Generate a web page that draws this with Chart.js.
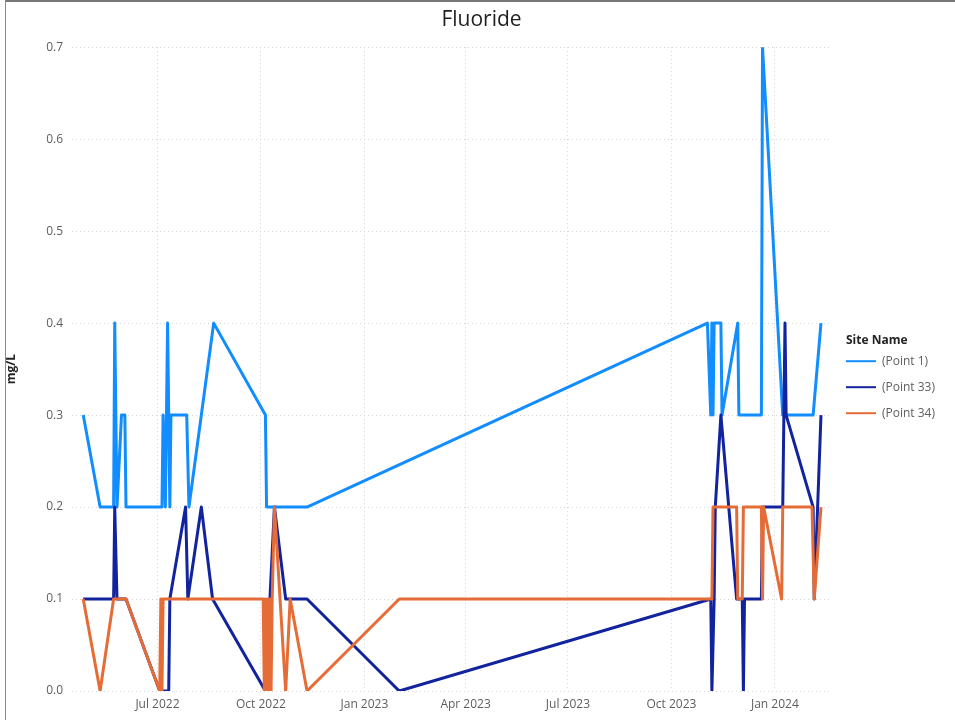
<!DOCTYPE html>
<html>
<head>
<meta charset="utf-8">
<script src="https://cdn.jsdelivr.net/npm/chart.js@4.4.1/dist/chart.umd.min.js"></script>
<style>
html,body{margin:0;padding:0;background:#fff;}
#wrap{position:relative;width:955px;height:720px;overflow:hidden;}
#frame{position:absolute;left:5px;top:0;width:980px;height:760px;border-left:1px solid #8a8a8a;border-top:2px solid #777;pointer-events:none;}
canvas{display:block;}
</style>
</head>
<body>
<div id="wrap"><canvas id="c" width="955" height="720"></canvas><div id="frame"></div></div>
<script>
const chartTitle = 'Fluoride';
const yTitle = 'mg/L';
const legendTitle = 'Site Name';
const seriesNames = ['(Point 1)', '(Point 33)', '(Point 34)'];
const seriesColors = ['#118DFF', '#12239E', '#E66C37'];

const p1Dates = ['2022-04-26','2022-05-11','2022-05-23','2022-05-24','2022-05-26','2022-05-30','2022-06-02','2022-06-03','2022-07-05','2022-07-06','2022-07-08','2022-07-10','2022-07-12','2022-07-13','2022-07-27','2022-07-29','2022-08-20','2022-10-05','2022-10-06','2022-11-11','2023-11-02','2023-11-05','2023-11-06','2023-11-07','2023-11-08','2023-11-14','2023-11-15','2023-11-29','2023-11-30','2023-12-20','2023-12-21','2024-01-08','2024-02-04','2024-02-11'];
const p1Values = [0.3,0.2,0.2,0.4,0.2,0.3,0.3,0.2,0.2,0.3,0.2,0.4,0.2,0.3,0.3,0.2,0.4,0.3,0.2,0.2,0.4,0.3,0.4,0.3,0.4,0.4,0.3,0.4,0.3,0.3,0.7,0.3,0.3,0.4];

const p33Dates = ['2022-04-26','2022-05-11','2022-05-23','2022-05-24','2022-05-26','2022-06-03','2022-07-03','2022-07-11','2022-07-12','2022-07-26','2022-07-28','2022-08-09','2022-08-19','2022-10-05','2022-10-13','2022-10-23','2022-11-11','2023-02-01','2023-11-05','2023-11-06','2023-11-08','2023-11-09','2023-11-14','2023-11-28','2023-12-03','2023-12-04','2023-12-05','2023-12-20','2023-12-21','2024-01-08','2024-01-10','2024-01-11','2024-02-04','2024-02-05','2024-02-11'];
const p33Values = [0.1,0.1,0.1,0.2,0.1,0.1,0.0,0.0,0.1,0.2,0.1,0.2,0.1,0.0,0.2,0.1,0.1,0.0,0.1,0.0,0.1,0.2,0.3,0.1,0.1,0.0,0.1,0.1,0.2,0.2,0.4,0.3,0.2,0.1,0.3];

const p34Dates = ['2022-04-26','2022-05-11','2022-05-23','2022-06-03','2022-07-03','2022-07-04','2022-07-05','2022-07-06','2022-08-20','2022-10-03','2022-10-04','2022-10-05','2022-10-06','2022-10-07','2022-10-08','2022-10-09','2022-10-10','2022-10-11','2022-10-13','2022-10-23','2022-10-27','2022-11-11','2023-02-01','2023-11-06','2023-11-07','2023-11-28','2023-11-29','2023-12-03','2023-12-04','2023-12-20','2023-12-21','2023-12-22','2024-01-07','2024-01-08','2024-02-03','2024-02-05','2024-02-11'];
const p34Values = [0.1,0.0,0.1,0.1,0.0,0.1,0.0,0.1,0.1,0.1,0.0,0.1,0.0,0.1,0.0,0.1,0.0,0.1,0.2,0.0,0.1,0.0,0.1,0.1,0.2,0.2,0.1,0.1,0.2,0.2,0.1,0.2,0.1,0.2,0.2,0.1,0.2];

const tickDates = ['2022-07-01','2022-10-01','2023-01-01','2023-04-01','2023-07-01','2023-10-01','2024-01-01'];
const tickLabels = ['Jul 2022','Oct 2022','Jan 2023','Apr 2023','Jul 2023','Oct 2023','Jan 2024'];
const yTickValues = [0, 0.1, 0.2, 0.3, 0.4, 0.5, 0.6, 0.7];
const xMinDate = '2022-04-16';
const xMaxDate = '2024-02-19';

const FONT = "'Segoe UI', 'Open Sans', sans-serif";

function toPoints(dates, values) {
  return dates.map((d, i) => ({ x: Date.parse(d), y: values[i] }));
}
function makeSet(i, dates, values) {
  return {
    label: seriesNames[i],
    data: toPoints(dates, values),
    borderColor: seriesColors[i],
    backgroundColor: seriesColors[i],
    borderWidth: 3,
    borderJoinStyle: 'round',
    pointRadius: 0,
    pointHoverRadius: 0,
    tension: 0,
    fill: false
  };
}

// Shift the chart title slightly right, as in the reference
const titleShift = {
  id: 'titleShift',
  afterLayout(chart) {
    const t = chart.titleBlock;
    if (t) { t.left += 9; t.right += 9; }
  }
};

// Draws the legend heading aligned with the legend line symbols
const legendHeading = {
  id: 'legendHeading',
  afterDraw(chart) {
    const lg = chart.legend;
    if (!lg || !lg.legendHitBoxes || !lg.legendHitBoxes.length) return;
    const boxes = lg.legendHitBoxes;
    let first = boxes[0];
    boxes.forEach(b => { if (b.top < first.top) first = b; });
    const ctx = chart.ctx;
    ctx.save();
    ctx.font = 'bold 12px ' + FONT;
    ctx.fillStyle = '#252423';
    ctx.textAlign = 'left';
    ctx.textBaseline = 'middle';
    ctx.fillText(legendTitle, first.left, first.top + first.height / 2 - 21);
    ctx.restore();
  }
};

const gridCommon = { color: '#d4d4d4', lineWidth: 1, drawTicks: false, borderDash: [1, 3] };

new Chart(document.getElementById('c'), {
  type: 'line',
  data: {
    datasets: [
      makeSet(2, p34Dates, p34Values),
      makeSet(1, p33Dates, p33Values),
      makeSet(0, p1Dates, p1Values)
    ]
  },
  plugins: [titleShift, legendHeading],
  options: {
    responsive: false,
    animation: false,
    events: [],
    layout: { padding: { left: 0, right: 10, top: 0, bottom: 0 } },
    plugins: {
      title: {
        display: true, text: chartTitle, color: '#1f1f1f',
        font: { family: FONT, size: 21, weight: 'normal' },
        padding: { top: 7, bottom: 15 }
      },
      legend: {
        position: 'right', align: 'center', reverse: true,
        title: {
          display: true, text: ' ', position: 'start', color: 'rgba(0,0,0,0)',
          font: { family: FONT, size: 12, weight: 'bold' }, padding: { top: 40, bottom: 0 }
        },
        labels: {
          usePointStyle: true, pointStyle: 'line', pointStyleWidth: 30,
          color: '#605E5C', font: { family: FONT, size: 12 }, padding: 14,
          generateLabels: chart => Chart.defaults.plugins.legend.labels.generateLabels(chart).map(it => Object.assign(it, { lineWidth: 2 }))
        }
      },
      tooltip: { enabled: false }
    },
    scales: {
      x: {
        type: 'linear',
        min: Date.parse(xMinDate), max: Date.parse(xMaxDate),
        afterBuildTicks: s => { s.ticks = tickDates.map(d => ({ value: Date.parse(d) })); },
        afterFit: s => { s.height = 29; },
        ticks: {
          autoSkip: false, maxRotation: 0, minRotation: 0, padding: 6,
          color: '#605E5C', font: { family: FONT, size: 12 },
          callback: (v, i) => tickLabels[i]
        },
        grid: gridCommon,
        border: { display: false, dash: [1, 3] }
      },
      y: {
        type: 'linear', min: 0, max: 0.7,
        afterBuildTicks: s => { s.ticks = yTickValues.map(v => ({ value: v })); },
        afterFit: s => { s.width = 72; },
        title: { display: true, text: yTitle, color: '#252423', font: { family: FONT, size: 12, weight: 'bold' } },
        ticks: { padding: 9, color: '#605E5C', font: { family: FONT, size: 12 }, callback: v => Number(v).toFixed(1) },
        grid: gridCommon,
        border: { display: false, dash: [1, 3] }
      },
      spacer: {
        type: 'linear', position: 'right', display: true,
        afterFit: s => { s.width = 2; },
        ticks: { display: false }, grid: { display: false }, border: { display: false }
      }
    }
  }
});
</script>
</body>
</html>
